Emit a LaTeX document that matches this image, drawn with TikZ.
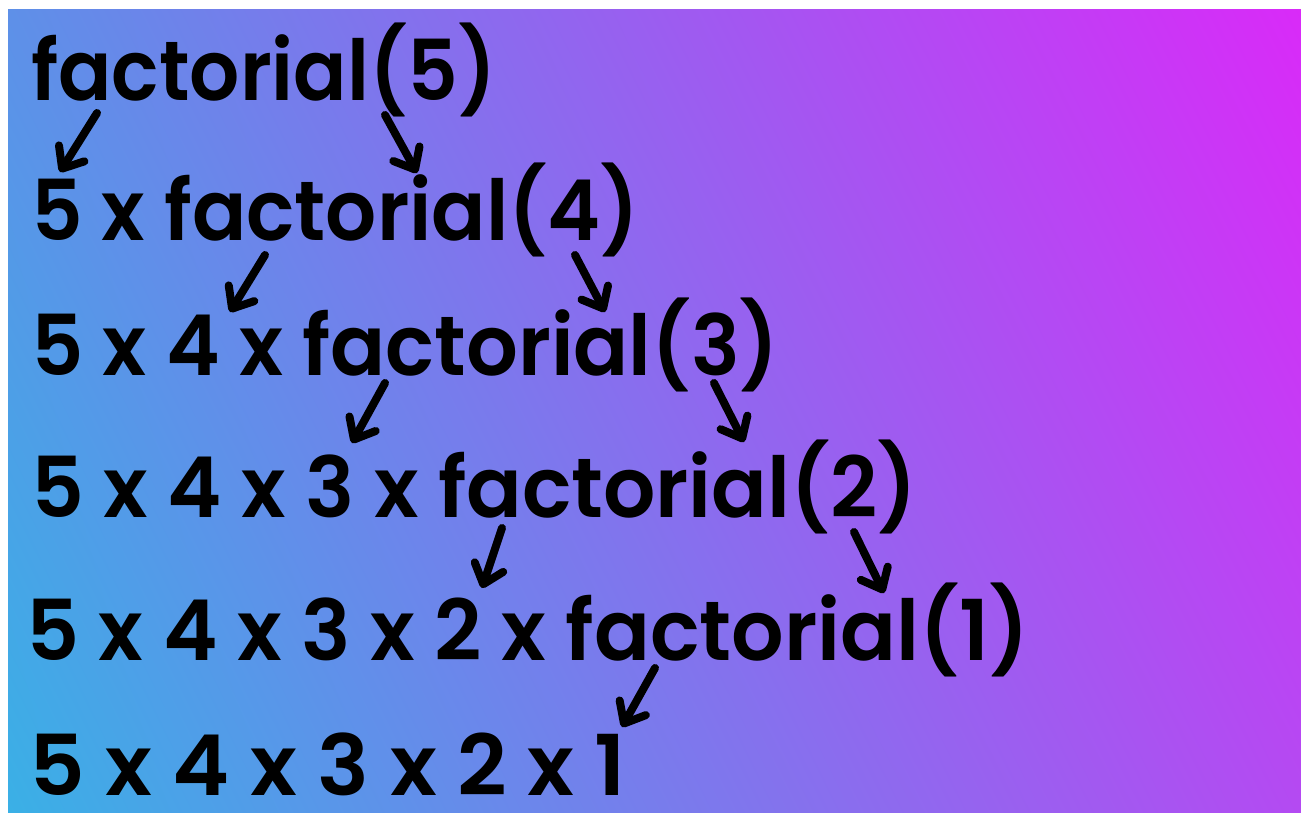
\documentclass[tikz,border=0pt]{standalone}
\usepackage{fontspec}
\usepackage{graphicx}
\setmainfont{Poppins}[BoldFont={Poppins SemiBold}]
\usetikzlibrary{arrows.meta,shadings}
\definecolor{bgUL}{RGB}{94,144,232}
\definecolor{bgUR}{RGB}{217,42,248}
\definecolor{bgLL}{RGB}{58,176,230}
\definecolor{bgLR}{RGB}{180,74,242}
\begin{document}
\begin{tikzpicture}[x=1pt,y=-1pt,
  txt/.style={inner sep=0pt, anchor=base west, text=black,
    font=\bfseries\fontsize{84}{88}\selectfont},
  callarrow/.style={line width=8pt, line cap=round, black,
    -{Straight Barb[length=18pt,width=30pt,round]}}]
\useasboundingbox (0,0) rectangle (1301,812);
\fill[white] (0,0) rectangle (1301,812);
\shade[upper left=bgUL, upper right=bgUR, lower left=bgLL, lower right=bgLR]
  (8,9) rectangle (1301,812);
% lines of text
\node[txt] (l1) at (31,100) {\resizebox{465pt}{\height}{factorial(5)}};
\node[txt] (l2) at (31,240) {\resizebox{608pt}{\height}{5 x factorial(4)}};
\node[txt] (l3) at (31,375) {\resizebox{748pt}{\height}{5 x 4 x factorial(3)}};
\node[txt] (l4) at (31,517) {\resizebox{886pt}{\height}{5 x 4 x 3 x factorial(2)}};
\node[txt] (l5) at (26,660) {\resizebox{1003pt}{\height}{5 x 4 x 3 x 2 x factorial(1)}};
\node[txt] (l6) at (29,795) {\resizebox{597pt}{\height}{5 x 4 x 3 x 2 x 1}};
% arrow end points
\coordinate (a1s) at (97,113);  \coordinate (a1e) at (60,172);
\coordinate (a2s) at (385,115); \coordinate (a2e) at (417,173);
\coordinate (a3s) at (265,255); \coordinate (a3e) at (230,312);
\coordinate (a4s) at (575,255); \coordinate (a4e) at (605,312);
\coordinate (a5s) at (385,383); \coordinate (a5e) at (352,443);
\coordinate (a6s) at (714,383); \coordinate (a6e) at (744,442);
\coordinate (a7s) at (502,528); \coordinate (a7e) at (482,588);
\coordinate (a8s) at (854,532); \coordinate (a8e) at (884,593);
\coordinate (a9s) at (655,668); \coordinate (a9e) at (622,727);
\foreach \i in {1,...,9} {\draw[callarrow] (a\i s) -- (a\i e);}
\end{tikzpicture}
\end{document}
